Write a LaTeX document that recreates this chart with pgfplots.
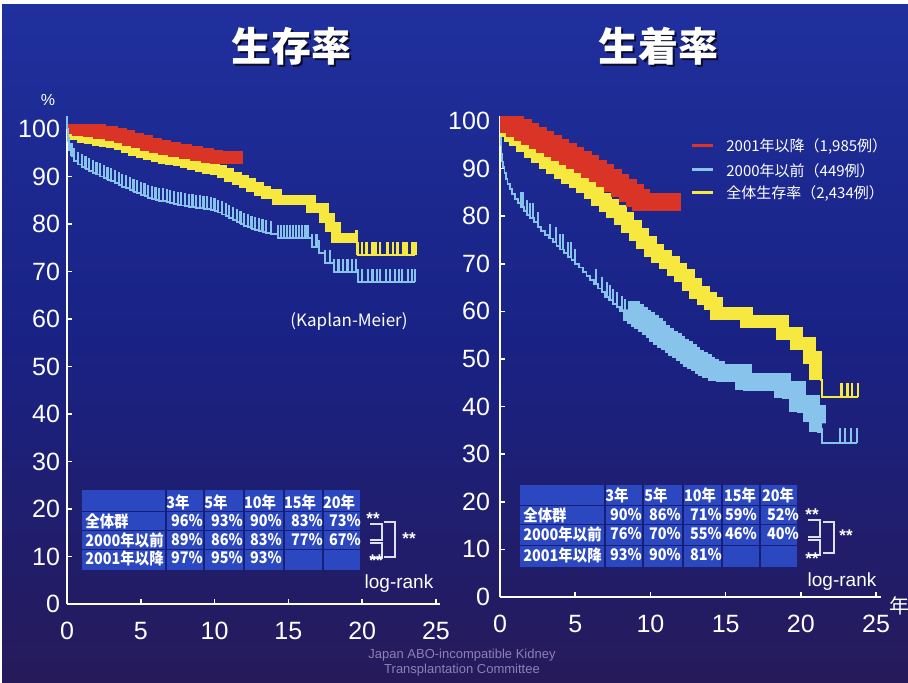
\documentclass[border=0pt]{standalone}
\usepackage{pgfplots}
\pgfplotsset{compat=1.18}
\usepackage{fontspec}
\setmainfont{Liberation Sans}
\newfontfamily\jp{Noto Sans CJK JP}
\newfontfamily\jpt{Noto Sans CJK JP}[FakeStretch=0.9]
\definecolor{bgtop}{RGB}{32,48,158}
\definecolor{bgmid}{RGB}{25,34,132}
\definecolor{bgbot}{RGB}{38,26,90}
\definecolor{kmred}{RGB}{218,52,38}
\definecolor{kmyel}{RGB}{246,232,62}
\definecolor{kmblue}{RGB}{135,195,235}
\definecolor{cell}{RGB}{44,72,192}
\definecolor{gridc}{RGB}{22,30,120}
\definecolor{foot}{RGB}{140,130,180}
\pgfdeclareplotmark{cens}{%
  \pgfpathmoveto{\pgfqpoint{0pt}{0pt}}%
  \pgfpathlineto{\pgfqpoint{0pt}{\pgfplotmarksize}}%
  \pgfusepathqstroke}
\pgfplotsset{
  km/.style={
    scale only axis, anchor=south west,
    xmin=0, xmax=25.3, ymin=0, ymax=101,
    axis lines=left,
    axis line style={white, line width=1pt, -},
    xtick={0,5,...,25}, ytick={0,10,...,100},
    tick style={white, line width=0.8pt},
    major tick length=2.5pt, tick align=inside,
    ticklabel style={white, font=\fontsize{12.5}{14}\selectfont},
    xticklabel style={yshift=-5.5pt},
    /pgf/number format/assume math mode=true,
    clip=true,
  },
  band/.style={const plot, draw=#1, line join=miter, line cap=butt, mark=none},
  cline/.style={const plot, draw=#1, line width=0.9pt, line cap=butt,
    mark=cens, mark options={solid, draw=#1, line width=1.1pt, line cap=butt}},
}
\begin{document}
\begin{tikzpicture}
\useasboundingbox (0,0) rectangle (454pt,341.5pt);
\shade[top color=bgtop, bottom color=bgbot, middle color=bgmid] (0,0) rectangle (454pt,341.5pt);
\fill[white] (0,339.5pt) rectangle (454pt,341.5pt);
\fill[white] (0,0) rectangle (1.2pt,341.5pt);

% ---------------- left: survival ----------------
\begin{axis}[km, at={(33.5pt,39.5pt)}, width=186.7pt, height=239.9pt]
\addplot[cline=kmblue, mark size=6.5pt] coordinates {
(0,100) (0.05,97.5) (0.15,95.5) (0.3,94.2) (0.5,93.2) (0.75,92.5) (1,92.0) (1.25,91.6) (1.5,91.2) (1.75,90.8) (2,90.4) (2.25,90.0) (2.5,89.7) (2.75,89.3) (3,89.0) (3.25,88.6) (3.5,88.2) (3.75,87.8) (4,87.5) (4.25,87.1) (4.5,86.8) (4.75,86.5) (5,86.1) (5.25,85.8) (5.5,85.5) (5.75,85.2) (6,85.0) (6.25,84.9) (6.5,84.8) (6.75,84.6) (7,84.4) (7.25,84.2) (7.5,84.0) (7.75,83.9) (8,83.8) (8.25,83.6) (8.5,83.5) (8.75,83.4) (9,83.3) (9.25,83.2) (9.5,83.1) (9.75,83.0) (10,82.8) (10.25,82.4) (10.5,82.0) (10.75,81.6) (11,81.2) (11.25,80.8) (11.5,80.4) (11.75,80.0) (12,79.6) (12.25,79.3) (12.5,79.0) (12.75,78.7) (13,78.5) (13.25,78.3) (13.5,78.1) (13.8,77.9) (14.3,77.0) (14.5,77.0) (14.7,77.0) (14.9,77.0) (15.1,77.0) (15.3,77.0) (15.5,77.0) (15.7,77.0) (15.9,77.0) (16.1,77.0) (16.3,77.0) (16.6,75.2) (16.9,75.2) (17.1,73.9) (17.5,71.8) (17.8,71.8) (18.1,69.9) (18.4,69.9) (18.7,69.9) (19.0,69.9) (19.3,69.9) (19.6,69.9) (19.7,67.8) (20.0,67.8) (20.4,67.8) (20.7,67.8) (21.0,67.8) (21.2,67.8) (21.6,67.8) (21.9,67.8) (22.2,67.8) (22.5,67.8) (22.7,67.8) (23.1,67.8) (23.4,67.8) (23.6,67.8)};
\addplot[band=kmyel, line width=5pt, yshift=2.5pt] coordinates {
(0,100) (0.15,98.5) (0.5,97.6) (1,97.1) (1.5,96.8) (2,96.5) (2.5,96.2) (3,95.9) (3.5,95.5) (4,95.0) (4.5,94.4) (5,93.8) (5.5,93.4) (6,93.0) (6.5,92.7) (7,92.4) (7.5,92.1) (8,91.7) (8.5,91.3) (9,90.9) (9.5,90.5) (10,90.2) (10.5,89.6) (11,88.9) (11.5,88.3) (12,87.6) (12.5,86.8) (13,85.9) (13.5,85.3) (14.2,84.0) (16.5,82.3) (17.4,80.3) (17.8,78.2) (18.2,76.0) (19.7,76.0)};
\addplot[cline=kmyel, mark size=6.5pt, mark options={line width=1.3pt}] coordinates {
(19.6,76.0) (19.7,73.5) (20.0,73.5) (20.3,73.5) (20.7,73.5) (20.9,73.5) (21.2,73.5) (21.7,73.5) (22.1,73.5) (22.4,73.5) (22.8,73.5) (23.0,73.5) (23.4,73.5) (23.6,73.5)};
\addplot[band=kmred, line width=6.5pt, yshift=3.25pt] coordinates {
(0,100) (0.3,99.0) (0.8,98.6) (1.5,98.3) (2.2,97.9) (3,97.4) (3.6,97.0) (4.2,96.5) (4.8,95.9) (5.4,95.3) (6,94.9) (6.6,94.5) (7.3,94.1) (8,93.7) (8.8,93.2) (9.5,92.8) (10.1,92.6) (11.9,92.6)};
\end{axis}

% ---------------- right: graft survival ----------------
\begin{axis}[km, at={(250pt,43pt)}, width=190.3pt, height=240.4pt,
  yticklabel style={xshift=-1.5pt}]
\addplot[const plot, draw=kmblue, line width=0.9pt, mark=none] coordinates {
(0,100) (0.02,97) (0.05,95) (0.1,93) (0.15,91.5) (0.2,90.3) (0.3,89) (0.4,87.8) (0.5,86.8) (0.65,85.7) (0.8,84.7) (1,83.6) (1.2,82.7) (1.4,81.9) (1.6,81.1) (1.8,80.3) (2,79.6) (2.25,78.7) (2.5,77.8) (2.75,76.9) (3,76.0) (3.25,75.3) (3.5,74.5) (3.75,73.8) (4,73.0) (4.25,72.3) (4.5,71.5) (4.75,70.8) (5,70.0) (5.25,69.2) (5.5,68.3) (5.75,67.5) (6,66.6) (6.25,65.7) (6.5,64.8) (6.75,64.0) (7,63.1) (7.25,62.4) (7.5,61.6) (7.75,60.9) (8,60.1) (8.25,59.4) (8.5,58.7) (8.75,58.0) (9,57.4) (9.25,56.8) (9.5,56.2) (9.75,55.6) (10,55.0) (10.25,54.3) (10.5,53.6) (10.75,53.0) (11,52.4) (11.25,51.9) (11.5,51.3) (11.75,50.7) (12,50.1) (12.25,49.5) (12.5,48.9) (12.75,48.4) (13,47.9) (13.25,47.4) (13.5,46.9) (13.75,46.5) (14,46.1) (14.4,45.3) (16.2,43.5) (18.8,41.8) (19.8,38.9) (20.7,36.8) (21.1,34.7) (21.4,32.4) (23.7,32.4)};
\addplot[only marks, mark=cens, mark size=7.5pt, mark options={draw=kmblue, line width=1pt, line cap=butt}] coordinates {
(1.4,81.9) (1.5,81.9) (1.8,80.3) (2.0,79.6) (2.2,79.6) (2.5,77.8) (3.3,75.3) (3.7,74.5) (4.0,73.0) (4.2,73.0) (4.5,71.5) (4.7,71.5) (5.0,70.0) (6.4,65.7) (6.8,64.0) (7.1,63.1) (7.3,62.4) (7.5,61.6) (7.8,60.9) (8.1,60.1) (8.3,59.4) (21.4,32.4) (22.6,32.4) (22.9,32.4) (23.3,32.4) (23.7,32.4)};
\addplot[band=kmblue, line width=8.5pt, yshift=4.25pt] coordinates {
(8.5,58.7) (8.75,58.0) (9,57.4) (9.25,56.8) (9.5,56.2) (9.75,55.6) (10,55.0) (10.25,54.3) (10.5,53.6) (10.75,53.0) (11,52.4) (11.25,51.9) (11.5,51.3) (11.75,50.7) (12,50.1) (12.25,49.5) (12.5,48.9) (12.75,48.4) (13,47.9) (13.25,47.4) (13.5,46.9) (13.75,46.5) (14,46.1) (14.4,45.3) (16.2,43.5) (18.8,41.8) (19.8,38.9) (20.7,36.8) (21.1,34.7) (21.4,34.7)};
\addplot[band=kmyel, line width=6.5pt, yshift=3.25pt] coordinates {
(0,100) (0.1,97.5) (0.3,96.6) (0.7,95.5) (1,94.7) (1.5,93.4) (2,92.3) (2.5,91.1) (3,89.9) (3.5,88.8) (4,87.8) (4.5,86.8) (5,85.9) (5.5,84.8) (6,83.5) (6.5,82.2) (7,80.9) (7.5,79.6) (8,78.1) (8.5,76.5) (9,74.8) (9.5,73.1) (10,71.5) (10.5,70.1) (11,68.8) (11.5,67.4) (12,66.2) (12.5,64.3) (13,62.6) (13.5,61.4) (14,60.2) (14.4,58.2) (16.4,56.5) (18.8,54.0) (19.7,51.9) (20.6,49.0) (21.0,45.5) (21.3,45.5)};
\addplot[cline=kmyel, mark size=7pt, mark options={line width=1.3pt}] coordinates {
(21.3,45.5) (21.4,42.0) (22.7,42.0) (23.1,42.0) (23.4,42.0) (23.8,42.0)};
\addplot[band=kmred, line width=9pt, yshift=4.5pt] coordinates {
(0,100) (0.1,99.0) (0.3,98.2) (0.6,97.4) (1,96.6) (1.5,95.8) (2,94.9) (2.5,94.1) (3,93.3) (3.5,92.5) (4,91.6) (4.5,90.8) (5,90.0) (5.5,89.1) (6,88.1) (6.5,87.1) (7,86.1) (7.5,85.1) (8,84.0) (8.5,82.9) (9,82.0) (9.4,81.0) (12,81.0)};
\end{axis}

% ---------------- annotations in pixel coordinates ----------------
\begin{scope}[x=0.5pt, y=-0.5pt, yshift=341.5pt]
% titles with shadow
\node[text=black!75!bgtop, font=\jp\bfseries\fontsize{20}{22}\selectfont] at (293.5,48.5) {生存率};
\node[text=white, font=\jp\bfseries\fontsize{20}{22}\selectfont] at (291,46) {生存率};
\node[text=black!75!bgtop, font=\jp\bfseries\fontsize{20}{22}\selectfont] at (660.5,48.5) {生着率};
\node[text=white, font=\jp\bfseries\fontsize{20}{22}\selectfont] at (658,46) {生着率};
\node[text=white, font=\fontsize{8}{9}\selectfont] at (48,100) {\%};
\node[text=white, font=\jp\fontsize{8.5}{10}\selectfont] at (349,322) {(Kaplan-Meier)};
\node[text=white, inner sep=0pt, font=\jp\fontsize{10}{12}\selectfont] at (899,606) {年};

% legend
\draw[kmred, line width=1.5pt] (692,146) -- (713,146);
\draw[kmblue, line width=1.5pt] (692,170) -- (713,170);
\draw[kmyel, line width=1.5pt] (692,193) -- (713,193);
\node[anchor=west, text=white, inner sep=0pt, font=\jp\fontsize{7.5}{9}\selectfont] at (726,147) {2001年以降（1,985例）};
\node[anchor=west, text=white, inner sep=0pt, font=\jp\fontsize{7.5}{9}\selectfont] at (726,171) {2000年以前（449例）};
\node[anchor=west, text=white, inner sep=0pt, font=\jp\fontsize{7.5}{9}\selectfont] at (726,194) {全体生存率（2,434例）};

% left table
\fill[cell] (82,490) rectangle (360,570);
\draw[gridc, line width=0.8pt] (82,511.5) -- (360,511.5) (82,530.5) -- (360,530.5) (82,549.5) -- (360,549.5);
\draw[gridc, line width=0.8pt] (166,490) -- (166,570) (204,490) -- (204,570) (244,490) -- (244,570) (284,490) -- (284,570) (323,490) -- (323,570);
\begin{scope}[every node/.style={text=white, inner sep=0pt, font=\jpt\bfseries\fontsize{8}{9}\selectfont}]
\node at (178,502) {3年}; \node at (216,502) {5年}; \node at (260,502) {10年}; \node at (300,502) {15年}; \node at (339,502) {20年};
\node[anchor=west] at (85,521) {全体群};
\node[anchor=west] at (85,540) {2000年以前};
\node[anchor=west] at (85,558) {2001年以降};
\node at (187,521) {96\%}; \node at (227,521) {93\%}; \node at (266,521) {90\%}; \node at (307,521) {83\%}; \node at (345,521) {73\%};
\node at (187,540) {89\%}; \node at (227,540) {86\%}; \node at (266,540) {83\%}; \node at (307,540) {77\%}; \node at (345,540) {67\%};
\node at (187,558) {97\%}; \node at (227,558) {95\%}; \node at (266,558) {93\%};
\end{scope}
\draw[white!85!bgtop, line width=0.75pt] (370,524) -- (382,524) -- (382,540) -- (370,540);
\draw[white!85!bgtop, line width=0.75pt] (370,543) -- (382,543) -- (382,558) -- (370,558);
\draw[white!85!bgtop, line width=0.75pt] (384,522) -- (395,522) -- (395,557) -- (384,557);
\begin{scope}[every node/.style={text=white, inner sep=0pt, font=\bfseries\fontsize{8.5}{9}\selectfont}]
\node at (373,519) {**};
\node at (409,539) {**};
\node at (376,561) {**};
\end{scope}
\node[text=white, inner sep=0pt, font=\fontsize{9.5}{11}\selectfont] at (399,584) {log-rank};

% right table
\fill[cell] (520,485) rectangle (797,567);
\draw[gridc, line width=0.8pt] (520,505.5) -- (797,505.5) (520,524.5) -- (797,524.5) (520,545.5) -- (797,545.5);
\draw[gridc, line width=0.8pt] (605,485) -- (605,567) (643,485) -- (643,567) (683,485) -- (683,567) (722,485) -- (722,567) (760,485) -- (760,567);
\begin{scope}[every node/.style={text=white, inner sep=0pt, font=\jpt\bfseries\fontsize{8}{9}\selectfont}]
\node at (617,495) {3年}; \node at (656,495) {5年}; \node at (700,495) {10年}; \node at (740,495) {15年}; \node at (778,495) {20年};
\node[anchor=west] at (523,515) {全体群};
\node[anchor=west] at (523,534) {2000年以前};
\node[anchor=west] at (523,555) {2001年以降};
\node at (626,515) {90\%}; \node at (665,515) {86\%}; \node at (706,515) {71\%}; \node at (741,515) {59\%}; \node at (783,515) {52\%};
\node at (626,534) {76\%}; \node at (665,534) {70\%}; \node at (706,534) {55\%}; \node at (741,534) {46\%}; \node at (783,534) {40\%};
\node at (626,555) {93\%}; \node at (665,555) {90\%}; \node at (706,555) {81\%};
\end{scope}
\draw[white!85!bgtop, line width=0.75pt] (808,520) -- (820,520) -- (820,537) -- (808,537);
\draw[white!85!bgtop, line width=0.75pt] (808,540) -- (820,540) -- (820,555) -- (808,555);
\draw[white!85!bgtop, line width=0.75pt] (823,522) -- (834,522) -- (834,553) -- (823,553);
\begin{scope}[every node/.style={text=white, inner sep=0pt, font=\bfseries\fontsize{8.5}{9}\selectfont}]
\node at (812,515) {**};
\node at (846,536) {**};
\node at (812,559) {**};
\end{scope}
\node[text=white, inner sep=0pt, font=\fontsize{9.5}{11}\selectfont] at (842,582) {log-rank};

% footer
\node[text=foot, font=\fontsize{6.5}{7.5}\selectfont, align=center] at (462,663) {Japan ABO-incompatible Kidney\\Transplantation Committee};
\end{scope}
\end{tikzpicture}
\end{document}
